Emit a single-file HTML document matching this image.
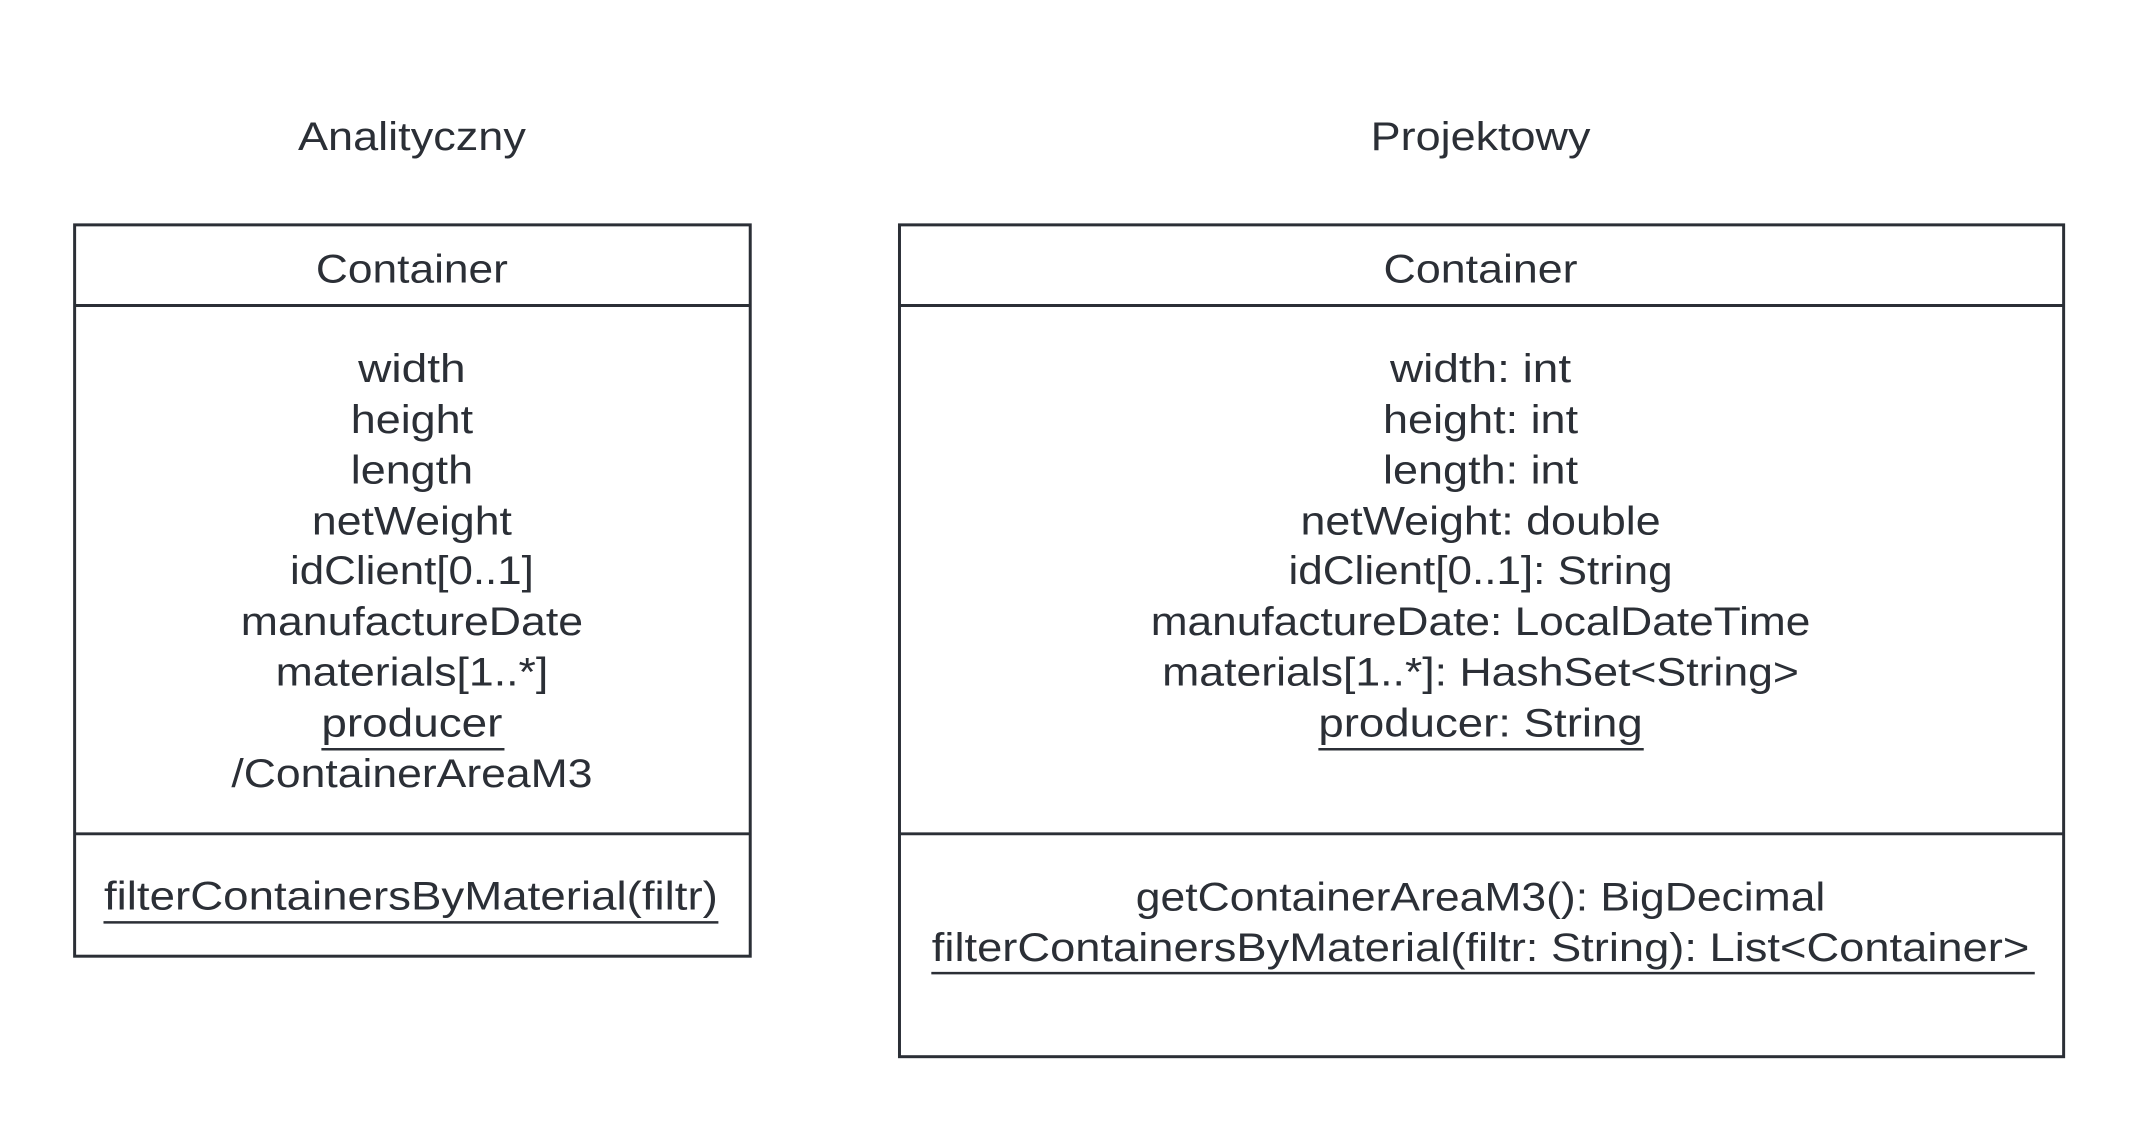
<!DOCTYPE html>
<html><head><meta charset="utf-8"><style>html,body{margin:0;padding:0;background:#fff;}svg{display:block}</style></head>
<body>
<svg width="2138" height="1133" viewBox="0 0 2138 1133" xmlns="http://www.w3.org/2000/svg">
<g transform="scale(0.995)">
<g fill="none" stroke="#2b2f36" stroke-width="3">
<rect x="75" y="226" width="679" height="735"/>
<line x1="75" y1="307" x2="754" y2="307"/>
<line x1="75" y1="838" x2="754" y2="838"/>
<rect x="904" y="226" width="1170" height="836"/>
<line x1="904" y1="307" x2="2074" y2="307"/>
<line x1="904" y1="838" x2="2074" y2="838"/>
<line x1="323" y1="753" x2="507" y2="753" stroke-width="2.5"/>
<line x1="104" y1="927" x2="722" y2="927" stroke-width="2.5"/>
<line x1="1325" y1="753" x2="1652" y2="753" stroke-width="2.5"/>
<line x1="936" y1="978" x2="2045" y2="978" stroke-width="2.5"/>
</g>
<g font-family="Liberation Sans, sans-serif" font-size="40" fill="#2b2f36" text-anchor="middle" transform="translate(0,3)">
<text x="414" y="148" textLength="229" lengthAdjust="spacingAndGlyphs">Analityczny</text>
<text x="1488" y="148" textLength="221" lengthAdjust="spacingAndGlyphs">Projektowy</text>
<text x="414" y="281" textLength="193" lengthAdjust="spacingAndGlyphs">Container</text>
<text x="1488" y="281" textLength="195" lengthAdjust="spacingAndGlyphs">Container</text>

<text x="414" y="381" textLength="108" lengthAdjust="spacingAndGlyphs">width</text>
<text x="414" y="432" textLength="123" lengthAdjust="spacingAndGlyphs">height</text>
<text x="414" y="483" textLength="123" lengthAdjust="spacingAndGlyphs">length</text>
<text x="414" y="534" textLength="201" lengthAdjust="spacingAndGlyphs">netWeight</text>
<text x="414" y="584" textLength="245" lengthAdjust="spacingAndGlyphs">idClient[0..1]</text>
<text x="414" y="635" textLength="344" lengthAdjust="spacingAndGlyphs">manufactureDate</text>
<text x="414" y="686" textLength="274" lengthAdjust="spacingAndGlyphs">materials[1..*]</text>
<text x="414" y="737" textLength="182" lengthAdjust="spacingAndGlyphs">producer</text>
<text x="414" y="788" textLength="363" lengthAdjust="spacingAndGlyphs">/ContainerAreaM3</text>
<text x="413" y="911" textLength="617" lengthAdjust="spacingAndGlyphs">filterContainersByMaterial(filtr)</text>

<text x="1488" y="381" textLength="182" lengthAdjust="spacingAndGlyphs">width: int</text>
<text x="1488" y="432" textLength="196" lengthAdjust="spacingAndGlyphs">height: int</text>
<text x="1488" y="483" textLength="196" lengthAdjust="spacingAndGlyphs">length: int</text>
<text x="1488" y="534" textLength="362" lengthAdjust="spacingAndGlyphs">netWeight: double</text>
<text x="1488" y="584" textLength="386" lengthAdjust="spacingAndGlyphs">idClient[0..1]: String</text>
<text x="1488" y="635" textLength="663" lengthAdjust="spacingAndGlyphs">manufactureDate: LocalDateTime</text>
<text x="1488" y="686" textLength="640" lengthAdjust="spacingAndGlyphs">materials[1..*]: HashSet&lt;String&gt;</text>
<text x="1488" y="737" textLength="326" lengthAdjust="spacingAndGlyphs">producer: String</text>
<text x="1488" y="912" textLength="693" lengthAdjust="spacingAndGlyphs">getContainerAreaM3(): BigDecimal</text>
<text x="1488" y="963" textLength="1103" lengthAdjust="spacingAndGlyphs">filterContainersByMaterial(filtr: String): List&lt;Container&gt;</text>
</g>
</g>
</svg>
</body></html>
